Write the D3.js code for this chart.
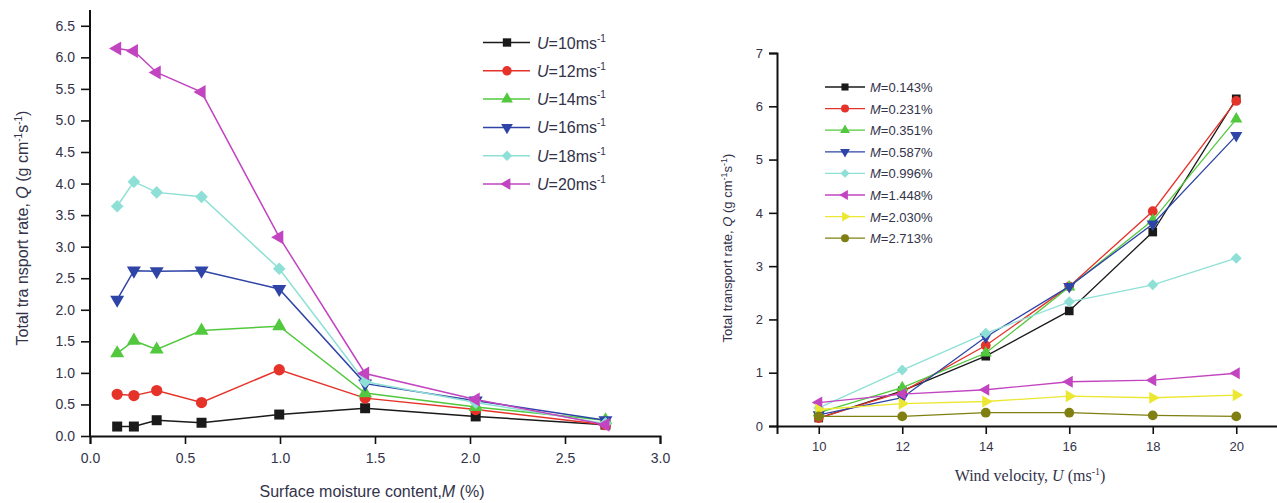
<!DOCTYPE html>
<html>
<head>
<meta charset="utf-8">
<script src="https://cdn.jsdelivr.net/npm/d3@7"></script>
<style>
  body { margin: 0; background: #fff; }
  svg { font-family: Arial, "Liberation Sans", sans-serif; }
</style>
</head>
<body>
<svg id="chart" width="1277" height="503"></svg>
<script>
// moisture contents (%) and wind velocities (m/s)
const moisture = [0.143, 0.231, 0.351, 0.587, 0.996, 1.448, 2.030, 2.713];
const velocity = [10, 12, 14, 16, 18, 20];

// transport rate Q, one row per moisture content, one column per velocity
const rateM0143 = [0.15, 0.66, 1.31, 2.16, 3.64, 6.14];
const rateM0231 = [0.15, 0.64, 1.51, 2.62, 4.03, 6.10];
const rateM0351 = [0.25, 0.72, 1.37, 2.61, 3.86, 5.76];
const rateM0587 = [0.21, 0.53, 1.67, 2.62, 3.79, 5.45];
const rateM0996 = [0.34, 1.05, 1.74, 2.33, 2.65, 3.15];
const rateM1448 = [0.44, 0.60, 0.68, 0.83, 0.86, 0.99];
const rateM2030 = [0.31, 0.42, 0.46, 0.56, 0.53, 0.58];
const rateM2713 = [0.18, 0.18, 0.25, 0.25, 0.20, 0.18];
const rates = [rateM0143, rateM0231, rateM0351, rateM0587, rateM0996, rateM1448, rateM2030, rateM2713];

const colors = ['#1a1a1a', '#e5332a', '#52c83e', '#2e44a6', '#8ee0d6', '#c244c0', '#ece832', '#7f7f12'];
const leftTicksX = [0, 0.5, 1, 1.5, 2, 2.5, 3];
const leftTicksY = [0, 0.5, 1, 1.5, 2, 2.5, 3, 3.5, 4, 4.5, 5, 5.5, 6, 6.5];
const rightTicksX = [10, 12, 14, 16, 18, 20];
const rightTicksY = [0, 1, 2, 3, 4, 5, 6, 7];

const textColor = '#33334a';
const svg = d3.select('#chart');

// marker shapes: square, circle, up, down, diamond, left, right, circle
function marker(i, size) {
  let types = [d3.symbolSquare, d3.symbolCircle, d3.symbolTriangle, d3.symbolTriangle,
               d3.symbolSquare, d3.symbolTriangle, d3.symbolTriangle, d3.symbolCircle];
  let rot = [0, 0, 0, 180, 45, -90, 90, 0];
  let s = size;
  if (i == 1 || i == 7) s = size * 1.0;
  if (i == 2 || i == 3 || i == 5 || i == 6) s = size * 0.85;
  if (i == 4) s = size * 0.8;
  return { path: d3.symbol().type(types[i]).size(s)(), rot: rot[i] };
}

function drawMarker(g, i, x, y, size) {
  let m = marker(i, size);
  g.append('path')
    .attr('d', m.path)
    .attr('transform', `translate(${x},${y}) rotate(${m.rot})`)
    .attr('fill', colors[i]);
}

function styleAxis(g, fontSize) {
  g.select('.domain').attr('stroke', '#111').attr('stroke-width', 2);
  g.selectAll('.tick line').attr('stroke', '#111').attr('stroke-width', 1.6);
  g.selectAll('.tick text').attr('fill', textColor).style('font-size', fontSize + 'px');
}

// ---------- left chart: Q vs M ----------
let xL = d3.scaleLinear().domain([0, 3]).range([90, 660]);
let yL = d3.scaleLinear().domain([0, 6.75]).range([436, 10]);

let gxL = svg.append('g').attr('transform', `translate(0,${yL(0)})`);
gxL.call(d3.axisBottom(xL).tickValues(d3.range(0, 3.01, 0.25)).tickSize(4).tickFormat(''));
gxL.call(d3.axisBottom(xL).tickValues(leftTicksX).tickSize(8).tickPadding(9).tickFormat(d3.format('.1f')));
styleAxis(gxL, 14);

let gyL = svg.append('g').attr('transform', `translate(${xL(0)},0)`);
gyL.call(d3.axisLeft(yL).tickValues(d3.range(0, 6.76, 0.25)).tickSize(5).tickFormat(''));
gyL.call(d3.axisLeft(yL).tickValues(leftTicksY).tickSize(9).tickPadding(6).tickFormat(d3.format('.1f')));
gyL.select('.domain').attr('d', `M0,${yL(0) + 1}V${yL(6.75)}`);
styleAxis(gyL, 14);

let lineL = d3.line().x(d => xL(d[0])).y(d => yL(d[1]));
velocity.forEach((u, j) => {
  let pts = moisture.map((m, i) => [m, rates[i][j]]);
  let g = svg.append('g');
  g.append('path').attr('d', lineL(pts)).attr('fill', 'none')
    .attr('stroke', colors[j]).attr('stroke-width', 1.5);
  pts.forEach(p => drawMarker(g, j, xL(p[0]), yL(p[1]), 100));
});

// left legend
velocity.forEach((u, j) => {
  let y = 42.5 + j * 28.3;
  let g = svg.append('g');
  g.append('line').attr('x1', 483).attr('x2', 530).attr('y1', y).attr('y2', y)
    .attr('stroke', colors[j]).attr('stroke-width', 1.5);
  drawMarker(g, j, 507, y, 70);
  let t = g.append('text').attr('x', 537).attr('y', y + 6).attr('fill', textColor)
    .style('font-size', '16px');
  t.append('tspan').style('font-style', 'italic').text('U');
  t.append('tspan').text('=' + u + 'ms');
  t.append('tspan').attr('dy', -7).style('font-size', '10px').text('-1');
});

// left axis titles
let tyL = svg.append('text').attr('transform', 'translate(28,228) rotate(-90)')
  .attr('text-anchor', 'middle').attr('fill', textColor).style('font-size', '16px');
tyL.append('tspan').text('Total tra nsport rate, ');
tyL.append('tspan').style('font-style', 'italic').text('Q');
tyL.append('tspan').text(' (g cm');
tyL.append('tspan').attr('dy', -6).style('font-size', '10px').text('-1');
tyL.append('tspan').attr('dy', 6).text('s');
tyL.append('tspan').attr('dy', -6).style('font-size', '10px').text('-1');
tyL.append('tspan').attr('dy', 6).text(')');

let txL = svg.append('text').attr('x', 372).attr('y', 497)
  .attr('text-anchor', 'middle').attr('fill', textColor).style('font-size', '16px');
txL.append('tspan').text('Surface moisture content,');
txL.append('tspan').style('font-style', 'italic').text('M');
txL.append('tspan').text(' (%)');

// ---------- right chart: Q vs U ----------
let xR = d3.scaleLinear().domain([9, 21]).range([777, 1278]);
let yR = d3.scaleLinear().domain([0, 7]).range([426, 53]);

let gxR = svg.append('g').attr('transform', `translate(0,${yR(0)})`);
gxR.call(d3.axisBottom(xR).tickValues(d3.range(9, 21.01, 1)).tickSize(5).tickFormat(''));
gxR.call(d3.axisBottom(xR).tickValues(rightTicksX).tickSize(8).tickPadding(8).tickFormat(d3.format('d')));
styleAxis(gxR, 13);

let gyR = svg.append('g').attr('transform', `translate(${xR(9)},0)`);
gyR.call(d3.axisLeft(yR).tickValues(d3.range(0, 7.01, 0.5)).tickSize(5).tickFormat(''));
gyR.call(d3.axisLeft(yR).tickValues(rightTicksY).tickSize(8).tickPadding(6).tickFormat(d3.format('d')));
styleAxis(gyR, 13);

let lineR = d3.line().x(d => xR(d[0])).y(d => yR(d[1]));
moisture.forEach((m, i) => {
  let pts = velocity.map((u, j) => [u, rates[i][j]]);
  let g = svg.append('g');
  g.append('path').attr('d', lineR(pts)).attr('fill', 'none')
    .attr('stroke', colors[i]).attr('stroke-width', 1.3);
  pts.forEach(p => drawMarker(g, i, xR(p[0]), yR(p[1]), 75));
});

// right legend
moisture.forEach((m, i) => {
  let y = 87 + i * 21.6;
  let g = svg.append('g');
  g.append('line').attr('x1', 825).attr('x2', 865).attr('y1', y).attr('y2', y)
    .attr('stroke', colors[i]).attr('stroke-width', 1.3);
  drawMarker(g, i, 845, y, 50);
  let t = g.append('text').attr('x', 870).attr('y', y + 5).attr('fill', textColor)
    .style('font-size', '13px');
  t.append('tspan').style('font-style', 'italic').text('M');
  t.append('tspan').text('=' + m.toFixed(3) + '%');
});

let tyR = svg.append('text').attr('transform', 'translate(732,248) rotate(-90)')
  .attr('text-anchor', 'middle').attr('fill', textColor).style('font-size', '13px');
tyR.append('tspan').text('Total transport rate, ');
tyR.append('tspan').style('font-style', 'italic').text('Q');
tyR.append('tspan').text(' (g cm');
tyR.append('tspan').attr('dy', -5).style('font-size', '9px').text('-1');
tyR.append('tspan').attr('dy', 5).text('s');
tyR.append('tspan').attr('dy', -5).style('font-size', '9px').text('-1');
tyR.append('tspan').attr('dy', 5).text(')');

let txR = svg.append('text').attr('x', 1030).attr('y', 481)
  .attr('text-anchor', 'middle').attr('fill', textColor)
  .style('font-family', '"Liberation Serif", "Times New Roman", serif').style('font-size', '16px');
txR.append('tspan').text('Wind velocity, ');
txR.append('tspan').style('font-style', 'italic').text('U');
txR.append('tspan').text(' (ms');
txR.append('tspan').attr('dy', -6).style('font-size', '10px').text('-1');
txR.append('tspan').attr('dy', 6).text(')');
</script>
</body>
</html>
